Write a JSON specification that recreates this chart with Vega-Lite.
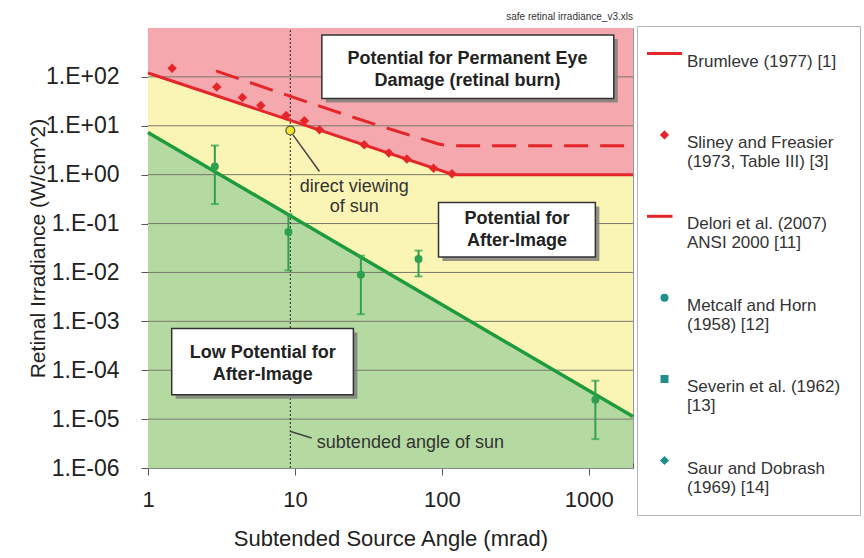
{
  "$schema": "https://vega.github.io/schema/vega-lite/v6.json",
  "autosize": {"type": "none"},
  "width": 485,
  "height": 440,
  "padding": {"left": 148, "top": 28, "right": 231, "bottom": 90},
  "background": "white",
  "title": {"text": "safe retinal irradiance_v3.xls", "anchor": "end", "frame": "group", "fontSize": 10, "fontWeight": "normal", "color": "#333", "offset": 8, "dy": 11},
  "config": {"font": "Liberation Sans", "view": {"stroke": "#999", "strokeWidth": 1}},
  "datasets": {
    "regions": [
      {"zone": "red", "x": 1, "y": 120, "y2": 1000},
      {"zone": "red", "x": 120, "y": 1, "y2": 1000},
      {"zone": "red", "x": 2000, "y": 1, "y2": 1000},
      {"zone": "yellow", "x": 1, "y": 7.3, "y2": 120},
      {"zone": "yellow", "x": 120, "y": 0.0016, "y2": 1},
      {"zone": "yellow", "x": 2000, "y": 1.13e-5, "y2": 1},
      {"zone": "green", "x": 1, "y": 1e-6, "y2": 7.3},
      {"zone": "green", "x": 2000, "y": 1e-6, "y2": 1.13e-5}
    ],
    "grid": [
      {"x": 1, "x2": 2000, "y": 1e-5},
      {"x": 1, "x2": 2000, "y": 1e-4},
      {"x": 1, "x2": 2000, "y": 1e-3},
      {"x": 1, "x2": 2000, "y": 1e-2},
      {"x": 1, "x2": 2000, "y": 1e-1},
      {"x": 1, "x2": 2000, "y": 1},
      {"x": 1, "x2": 2000, "y": 10},
      {"x": 1, "x2": 2000, "y": 100}
    ],
    "sun": [{"x": 9.3, "y": 1e-6, "y2": 1000}],
    "sunpt": [{"x": 9.3, "y": 8.0}],
    "greenline": [{"x": 1, "y": 7.3}, {"x": 2000, "y": 1.13e-5}],
    "brumleve": [{"x": 1, "y": 120}, {"x": 120, "y": 1}, {"x": 2000, "y": 1}],
    "delori": [
      {"x": 2.9, "y": 133}, {"x": 83, "y": 4.8}, {"x": 95, "y": 4.25},
      {"x": 108, "y": 4.0}, {"x": 125, "y": 3.9}, {"x": 2000, "y": 3.9}
    ],
    "sliney": [
      {"x": 1.46, "y": 151}, {"x": 2.94, "y": 61.8}, {"x": 4.39, "y": 37.9},
      {"x": 5.86, "y": 26.0}, {"x": 8.71, "y": 16.3}, {"x": 11.6, "y": 12.7},
      {"x": 14.7, "y": 8.28}, {"x": 29.6, "y": 4.09}, {"x": 43.6, "y": 2.77},
      {"x": 57.8, "y": 2.08}, {"x": 87.8, "y": 1.36}, {"x": 117, "y": 1.04}
    ],
    "obs": [
      {"x": 2.85, "y": 1.47, "lo": 0.25, "hi": 3.95},
      {"x": 9.03, "y": 0.067, "lo": 0.011, "hi": 0.156},
      {"x": 28.1, "y": 0.009, "lo": 0.0014, "hi": 0.022},
      {"x": 69.4, "y": 0.0188, "lo": 0.0083, "hi": 0.028},
      {"x": 1109, "y": 2.5e-5, "lo": 3.9e-6, "hi": 6.1e-5}
    ],
    "connectors": [
      {"x": 9.7, "y": 6.5, "x2": 14.7, "y2": 1.16},
      {"x": 9.35, "y": 5.6e-6, "x2": 13.0, "y2": 4.1e-6}
    ],
    "boxes": [
      {"x": 15.25, "x2": 1479, "y": 716, "y2": 36.1},
      {"x": 94.9, "x2": 1109, "y": 0.27, "y2": 0.0207},
      {"x": 1.45, "x2": 25.0, "y": 7.1e-4, "y2": 3.16e-5}
    ],
    "boxtext": [
      {"x": 149.4, "y": 138, "text": "Potential for Permanent Eye|Damage (retinal burn)"},
      {"x": 325, "y": 0.074, "text": "Potential for|After-Image"},
      {"x": 6.03, "y": 1.35e-4, "text": "Low Potential for|After-Image"}
    ],
    "notes": [
      {"kind": "center", "x": 25.3, "y": 0.353, "text": "direct viewing|of sun"},
      {"kind": "left", "x": 14.1, "y": 3.29e-6, "text": "subtended angle of sun"}
    ]
  },
  "encoding": {
    "x": {
      "field": "x", "type": "quantitative",
      "scale": {"type": "log", "domain": [1, 2000], "nice": false},
      "axis": {
        "title": "Subtended Source Angle (mrad)",
        "titleFontSize": 22, "titleFontWeight": "normal", "titleColor": "#222", "titlePadding": 18,
        "labelFontSize": 22, "labelColor": "#222", "labelPadding": 14, "labelFlush": false, "labelOverlap": false,
        "values": [1,2,3,4,5,6,7,8,9,10,20,30,40,50,60,70,80,90,100,200,300,400,500,600,700,800,900,1000,2000],
        "labelExpr": "abs(log(datum.value)/LN10 - round(log(datum.value)/LN10)) < 0.001 && datum.value < 1500 ? format(datum.value, 'd') : ''",
        "tickSize": {"condition": {"test": "abs(log(datum.value)/LN10 - round(log(datum.value)/LN10)) < 0.001", "value": 7}, "value": -5},
        "tickColor": "#555", "domainColor": "#888", "grid": false
      }
    },
    "y": {
      "field": "y", "type": "quantitative",
      "scale": {"type": "log", "domain": [1e-6, 1000], "nice": false},
      "axis": {
        "title": "Retinal Irradiance (W/cm^2)",
        "titleFontSize": 21, "titleFontWeight": "normal", "titleColor": "#222", "titlePadding": -3,
        "labelFontSize": 23, "labelColor": "#222", "labelPadding": 22, "labelFlush": false, "labelOverlap": false,
        "values": [1e-6,2e-6,3e-6,4e-6,5e-6,6e-6,7e-6,8e-6,9e-6,1e-5,2e-5,3e-5,4e-5,5e-5,6e-5,7e-5,8e-5,9e-5,1e-4,2e-4,3e-4,4e-4,5e-4,6e-4,7e-4,8e-4,9e-4,1e-3,2e-3,3e-3,4e-3,5e-3,6e-3,7e-3,8e-3,9e-3,1e-2,2e-2,3e-2,4e-2,5e-2,6e-2,7e-2,8e-2,9e-2,0.1,0.2,0.3,0.4,0.5,0.6,0.7,0.8,0.9,1,2,3,4,5,6,7,8,9,10,20,30,40,50,60,70,80,90,100,200,300,400,500,600,700,800,900],
        "labelExpr": "abs(log(datum.value)/LN10 - round(log(datum.value)/LN10)) < 0.001 ? '1.E' + (round(log(datum.value)/LN10) < 0 ? '-' : '+') + '0' + abs(round(log(datum.value)/LN10)) : ''",
        "tickSize": {"condition": {"test": "abs(log(datum.value)/LN10 - round(log(datum.value)/LN10)) < 0.001", "value": 7}, "value": -5},
        "tickColor": "#555", "domainColor": "#888", "grid": false
      }
    }
  },
  "layer": [
    {"data": {"name": "regions"}, "transform": [{"filter": "datum.zone == 'red'"}],
     "mark": {"type": "area", "color": "#f5a9ae", "opacity": 1}, "encoding": {"y2": {"field": "y2"}}},
    {"data": {"name": "regions"}, "transform": [{"filter": "datum.zone == 'yellow'"}],
     "mark": {"type": "area", "color": "#fbf5b5", "opacity": 1}, "encoding": {"y2": {"field": "y2"}}},
    {"data": {"name": "regions"}, "transform": [{"filter": "datum.zone == 'green'"}],
     "mark": {"type": "area", "color": "#b5daa1", "opacity": 1}, "encoding": {"y2": {"field": "y2"}}},
    {"data": {"name": "grid"}, "mark": {"type": "rule", "color": "#77776a", "strokeWidth": 1},
     "encoding": {"x2": {"field": "x2"}}},
    {"data": {"name": "sun"}, "mark": {"type": "rule", "color": "#222", "strokeWidth": 1, "strokeDash": [2, 2]},
     "encoding": {"y2": {"field": "y2"}}},
    {"data": {"name": "greenline"}, "mark": {"type": "line", "color": "#1e9b3d", "strokeWidth": 3.5}, "encoding": {}},
    {"data": {"name": "brumleve"}, "mark": {"type": "line", "color": "#e4262b", "strokeWidth": 3}, "encoding": {}},
    {"data": {"name": "delori"}, "mark": {"type": "line", "color": "#e4262b", "strokeWidth": 3, "strokeDash": [24, 12], "interpolate": "monotone"}, "encoding": {}},
    {"data": {"name": "sliney"}, "mark": {"type": "point", "shape": "diamond", "filled": true, "color": "#e4262b", "size": 90, "opacity": 1}, "encoding": {}},
    {"data": {"name": "obs"},
     "mark": {"type": "errorbar", "color": "#2f9f50", "ticks": {"size": 8, "thickness": 2}, "rule": {"strokeWidth": 2}},
     "encoding": {
       "y": {"field": "lo", "type": "quantitative", "scale": {"type": "log", "domain": [1e-6, 1000], "nice": false}},
       "y2": {"field": "hi"}
     }},
    {"data": {"name": "obs"}, "mark": {"type": "point", "shape": "circle", "filled": true, "color": "#2f9f50", "size": 64, "opacity": 1}, "encoding": {}},
    {"data": {"name": "connectors"}, "mark": {"type": "rule", "color": "#444", "strokeWidth": 1.5},
     "encoding": {"x2": {"field": "x2"}, "y2": {"field": "y2"}}},
    {"data": {"name": "sunpt"}, "mark": {"type": "point", "shape": "circle", "filled": true, "fill": "#f2e42a", "stroke": "#555", "strokeWidth": 1.2, "size": 80, "opacity": 1}, "encoding": {}},
    {"data": {"name": "boxes"}, "mark": {"type": "rect", "color": "#7a7a7a", "xOffset": 4, "x2Offset": 4, "yOffset": 4, "y2Offset": 4, "opacity": 0.8},
     "encoding": {"x2": {"field": "x2"}, "y2": {"field": "y2"}}},
    {"data": {"name": "boxes"}, "mark": {"type": "rect", "fill": "white", "stroke": "#333", "strokeWidth": 1.5},
     "encoding": {"x2": {"field": "x2"}, "y2": {"field": "y2"}}},
    {"data": {"name": "boxtext"}, "mark": {"type": "text", "fontSize": 18, "fontWeight": "bold", "color": "#222", "align": "center", "baseline": "middle", "lineBreak": "|", "lineHeight": 22, "dy": -11},
     "encoding": {"text": {"field": "text"}}},
    {"data": {"name": "notes"}, "transform": [{"filter": "datum.kind == 'center'"}],
     "mark": {"type": "text", "fontSize": 18, "color": "#333", "align": "center", "baseline": "middle", "lineBreak": "|", "lineHeight": 19.5, "dy": -9.75},
     "encoding": {"text": {"field": "text"}}},
    {"data": {"name": "notes"}, "transform": [{"filter": "datum.kind == 'left'"}],
     "mark": {"type": "text", "fontSize": 18, "color": "#333", "align": "left", "baseline": "middle"},
     "encoding": {"text": {"field": "text"}}},
    {"data": {"values": []},
     "mark": {"type": "point", "filled": false, "strokeWidth": 3, "opacity": 1},
     "encoding": {
       "color": {"field": "series", "type": "nominal",
         "scale": {"domain": ["Brumleve (1977) [1]", "Sliney and Freasier|(1973, Table III) [3]", "Delori et al. (2007)|ANSI 2000 [11]", "Metcalf and Horn|(1958) [12]", "Severin et al. (1962)|[13]", "Saur and Dobrash|(1969) [14]"],
                   "range": ["#e4262b", "#e4262b", "#e4262b", "#1f8f8c", "#1f8f8c", "#1f8f8c"]},
         "legend": {"title": null, "orient": "none", "legendX": 489, "legendY": -2, "direction": "vertical",
           "padding": 19, "strokeColor": "#b5b5b5", "fillColor": "white", "gridAlign": "all", "rowPadding": 37.4,
           "symbolSize": 25, "symbolStrokeWidth": 3, "symbolOffset": 0,
           "labelFontSize": 17, "labelColor": "#333", "labelLimit": 220, "labelOffset": 14, "labelBaseline": "top",
           "labelExpr": "split(datum.label, '|')",
           "encode": {"labels": {"update": {"dy": {"value": -9}, "lineHeight": {"value": 21}}}}}},
       "fill": {"field": "series", "type": "nominal",
         "scale": {"domain": ["Brumleve (1977) [1]", "Sliney and Freasier|(1973, Table III) [3]", "Delori et al. (2007)|ANSI 2000 [11]", "Metcalf and Horn|(1958) [12]", "Severin et al. (1962)|[13]", "Saur and Dobrash|(1969) [14]"],
                   "range": ["#e4262b", "#e4262b", "#e4262b", "#1f8f8c", "#1f8f8c", "#1f8f8c"]},
         "legend": {"title": null, "orient": "none", "legendX": 489, "legendY": -2, "direction": "vertical",
           "padding": 19, "strokeColor": "#b5b5b5", "fillColor": "white", "gridAlign": "all", "rowPadding": 37.4,
           "symbolSize": 25, "symbolStrokeWidth": 3, "symbolOffset": 0,
           "labelFontSize": 17, "labelColor": "#333", "labelLimit": 220, "labelOffset": 14, "labelBaseline": "top",
           "labelExpr": "split(datum.label, '|')",
           "encode": {"labels": {"update": {"dy": {"value": -9}, "lineHeight": {"value": 21}}}}}},
       "shape": {"field": "series", "type": "nominal",
         "scale": {"domain": ["Brumleve (1977) [1]", "Sliney and Freasier|(1973, Table III) [3]", "Delori et al. (2007)|ANSI 2000 [11]", "Metcalf and Horn|(1958) [12]", "Severin et al. (1962)|[13]", "Saur and Dobrash|(1969) [14]"],
                   "range": ["M-7,0H7", "diamond", "M-7,0H3.2", "circle", "square", "diamond"]},
         "legend": {"title": null, "orient": "none", "legendX": 489, "legendY": -2, "direction": "vertical",
           "padding": 19, "strokeColor": "#b5b5b5", "fillColor": "white", "gridAlign": "all", "rowPadding": 37.4,
           "symbolSize": 25, "symbolStrokeWidth": 3, "symbolOffset": 0,
           "labelFontSize": 17, "labelColor": "#333", "labelLimit": 220, "labelOffset": 14, "labelBaseline": "top",
           "labelExpr": "split(datum.label, '|')",
           "encode": {"labels": {"update": {"dy": {"value": -9}, "lineHeight": {"value": 21}}}}}}
     }}
  ]
}
